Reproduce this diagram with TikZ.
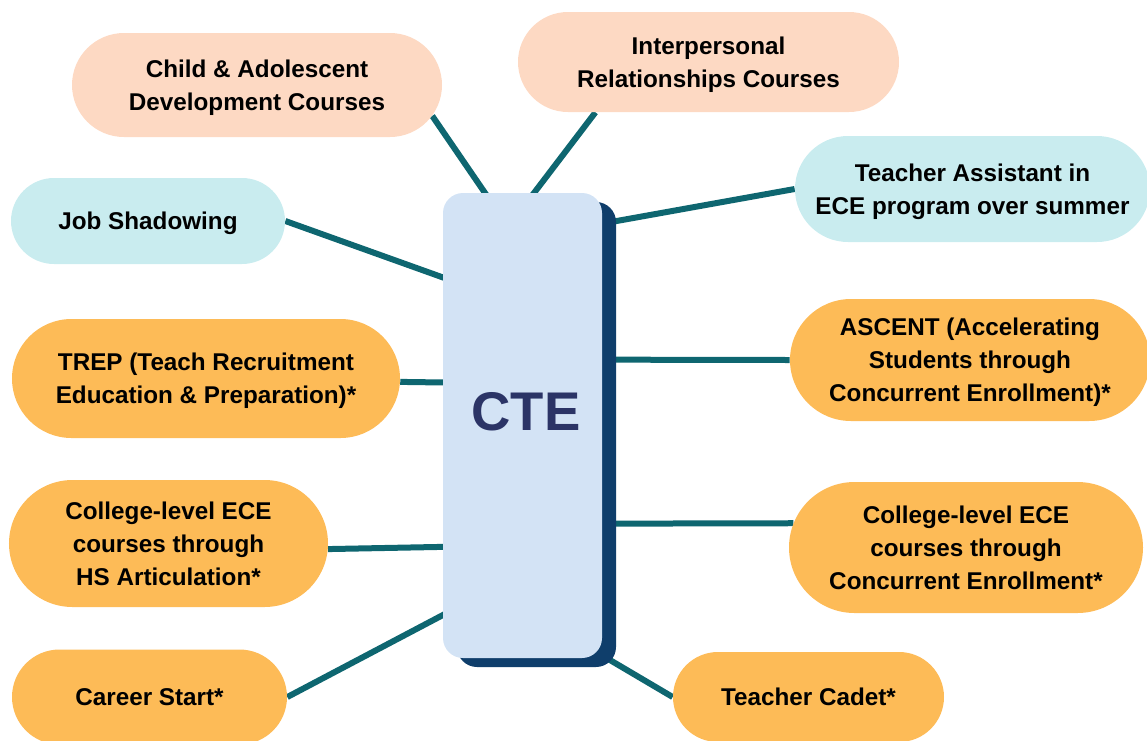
\documentclass[tikz,border=0pt]{standalone}
\usepackage{fontspec}
\setmainfont{Liberation Sans}
\usetikzlibrary{calc, shapes.misc, shadows, backgrounds}

\definecolor{peach}{HTML}{FDD9C3}
\definecolor{aqua}{HTML}{C9ECEF}
\definecolor{amber}{HTML}{FDBB57}
\definecolor{teal}{HTML}{0E6670}
\definecolor{ctelight}{HTML}{D3E3F5}
\definecolor{ctedark}{HTML}{0F3E6B}
\definecolor{ctetext}{HTML}{2B3466}

\tikzset{
  pill/.style={rounded rectangle, align=center, inner sep=0pt, text depth=0pt,
    font=\fontsize{13.8}{18.7}\selectfont\bfseries},
  link/.style={draw=teal, line width=0.12cm}
}

\begin{document}
\begin{tikzpicture}
            \useasboundingbox (0,0) rectangle (22.94,-14.8);
            % centre box
            \node[fill=ctelight, rounded corners=0.4cm, minimum width=3.18cm, minimum height=9.3cm,
                  drop shadow={shadow xshift=0.28cm, shadow yshift=-0.18cm, fill=ctedark, opacity=1}]
                  (cte) at (10.45,-8.51) {};
            \node[font=\fontsize{31}{36}\selectfont\bfseries, text=ctetext] (ctelabel) at (10.52,-8.24) {CTE};
            % boxes round it
            \node[pill, fill=peach, minimum width=7.4cm, minimum height=2.08cm] (child) at (5.14,-1.70) {Child \& Adolescent\\Development Courses};
            \node[pill, fill=peach, minimum width=7.62cm, minimum height=2.0cm] (inter) at (14.17,-1.24) {Interpersonal\\Relationships Courses};
            \node[pill, fill=aqua, minimum width=7.1cm, minimum height=2.12cm] (assist) at (19.45,-3.78) {Teacher Assistant in\\ECE program over summer};
            \node[pill, fill=aqua, minimum width=5.48cm, minimum height=1.72cm] (job) at (2.96,-4.42) {Job Shadowing};
            \node[pill, fill=amber, minimum width=7.76cm, minimum height=2.38cm] (trep) at (4.12,-7.57) {TREP (Teach Recruitment\\Education \& Preparation)*};
            \node[pill, fill=amber, minimum width=7.2cm, minimum height=2.44cm] (ascent) at (19.4,-7.2) {ASCENT (Accelerating\\Students through\\Concurrent Enrollment)*};
            \node[pill, fill=amber, minimum width=6.38cm, minimum height=2.54cm] (colhs) at (3.37,-10.87) {College-level ECE\\courses through\\HS Articulation*};
            \node[pill, fill=amber, minimum width=7.08cm, minimum height=2.62cm] (colce) at (19.32,-10.95) {College-level ECE\\courses through\\Concurrent Enrollment*};
            \node[pill, fill=amber, minimum width=5.5cm, minimum height=1.9cm] (career) at (2.99,-13.94) {Career Start*};
            \node[pill, fill=amber, minimum width=5.42cm, minimum height=1.8cm] (cadet) at (16.17,-13.94) {Teacher Cadet*};
            % connectors
            \begin{scope}[on background layer]
            \draw[link] (child.-10.5) -- ([shift={(0.98,-0.2)}]cte.north west);
            \draw[link] (inter.-156) -- ([shift={(1.68,-0.2)}]cte.north west);
            \draw[link] (assist.west) -- ([shift={(-0.12,-0.64)}]cte.north east);
            \draw[link] (job.east) -- ([shift={(0.24,-1.78)}]cte.north west);
            \draw[link] (trep.-1) -- ([shift={(0.24,-3.8)}]cte.north west);
            \draw[link] (ascent.west) -- ([shift={(-0.04,-3.34)}]cte.north east);
            \draw[link] (colhs.-2) -- ([shift={(0.24,-7.08)}]cte.north west);
            \draw[link] (colce.172.4) -- ([shift={(-0.04,-6.62)}]cte.north east);
            \draw[link] (career.east) -- ([shift={(0.22,0.98)}]cte.south west);
            \draw[link] (cadet.west) -- ([shift={(-0.04,0.08)}]cte.south east);
            \end{scope}
        \end{tikzpicture}
\end{document}
